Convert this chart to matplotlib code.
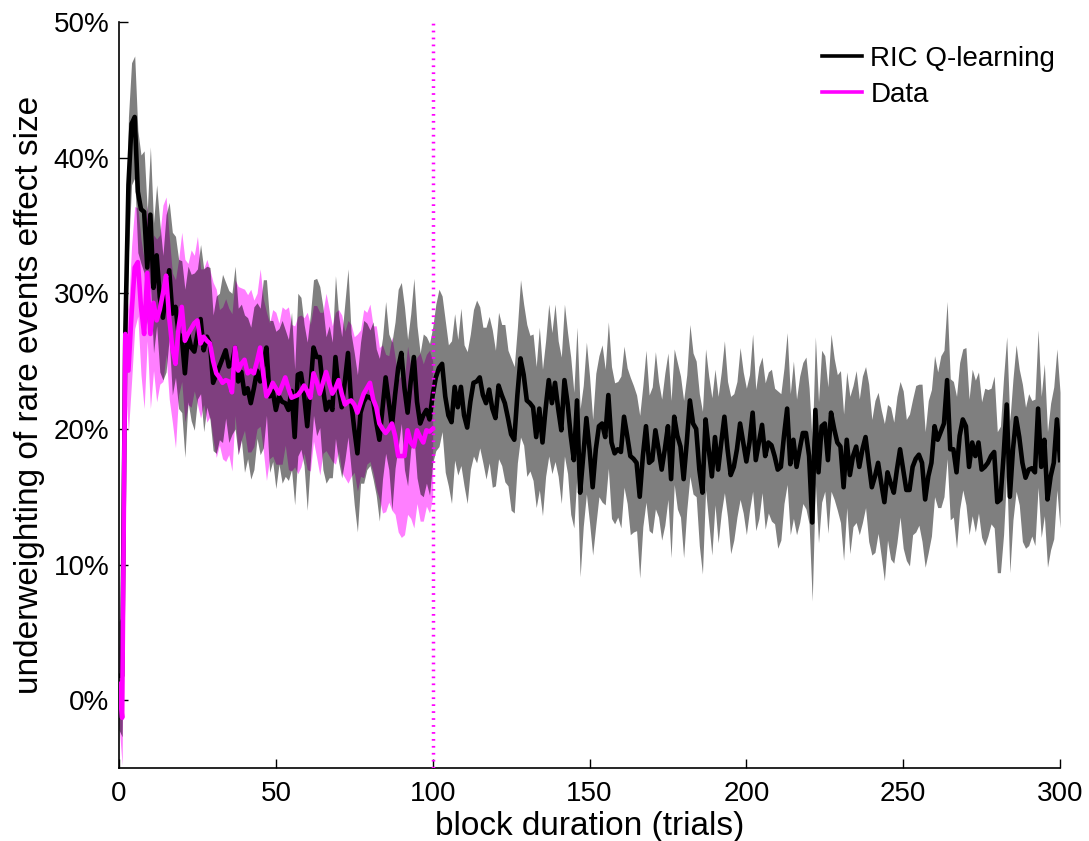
import numpy as np
import matplotlib
matplotlib.use("Agg")
import matplotlib.pyplot as plt

plt.rcParams['font.family'] = ['Liberation Sans', 'DejaVu Sans']

# RIC Q-learning model, mean effect size per trial (%)
model_mean = [
    1.8, 1.8, 27.0, 38.0, 42.5, 43.0, 37.5, 36.2, 36.0, 31.9,
    35.8, 30.4, 32.8, 29.7, 28.2, 30.0, 31.7, 28.5, 29.0, 27.0,
    26.8, 24.1, 27.0, 26.0, 25.7, 27.0, 28.1, 25.8, 26.8, 26.3,
    23.4, 24.0, 24.6, 25.2, 25.8, 24.6, 24.8, 26.0, 23.5, 24.2,
    22.6, 23.0, 21.9, 23.0, 24.3, 23.5, 24.8, 26.0, 22.4, 22.8,
    21.4, 22.4, 22.0, 21.9, 21.4, 22.8, 19.4, 24.0, 24.1, 22.5,
    20.2, 23.0, 26.0, 25.3, 25.3, 23.0, 21.4, 22.0, 21.4, 25.3,
    23.0, 21.6, 23.5, 25.6, 22.0, 20.0, 18.2, 21.2, 22.0, 22.4,
    22.3, 22.1, 20.5, 19.2, 21.5, 23.8, 22.0, 20.2, 22.5, 24.5,
    25.6, 23.0, 21.2, 23.5, 25.3, 22.0, 20.4, 21.0, 21.4, 20.7,
    22.5, 23.8, 24.5, 24.8, 22.4, 21.0, 20.5, 23.1, 21.6, 23.1,
    21.0, 20.1, 22.0, 23.4, 23.5, 23.8, 22.5, 21.9, 22.9, 21.5,
    20.8, 23.2, 22.5, 21.9, 20.8, 19.6, 19.2, 22.5, 25.2, 24.0,
    22.1, 21.9, 21.6, 19.4, 21.5, 19.0, 21.5, 23.6, 21.9, 23.4,
    21.5, 19.9, 23.6, 21.9, 19.5, 17.7, 22.1, 15.3, 18.0, 20.8,
    18.5, 15.7, 18.5, 20.2, 20.4, 19.4, 22.5, 19.0, 18.2, 18.5,
    18.3, 20.9, 19.5, 18.0, 17.8, 17.5, 15.0, 18.0, 20.2, 17.5,
    17.7, 19.9, 18.5, 17.0, 18.5, 20.2, 16.3, 20.9, 19.5, 18.7,
    16.3, 19.0, 22.1, 20.4, 20.0, 17.0, 15.3, 20.7, 18.5, 16.5,
    19.4, 17.0, 19.0, 20.9, 18.5, 16.6, 17.2, 18.5, 20.4, 19.0,
    17.6, 19.0, 21.2, 17.7, 19.0, 20.3, 18.0, 19.0, 18.8, 18.0,
    17.0, 17.2, 19.5, 21.5, 17.4, 19.2, 17.2, 18.5, 19.7, 19.7,
    18.0, 13.1, 21.4, 16.8, 20.2, 20.4, 17.7, 21.2, 20.0, 19.0,
    18.7, 15.7, 19.2, 16.6, 18.0, 18.7, 17.2, 18.5, 19.4, 17.5,
    15.7, 16.5, 17.5, 16.0, 14.6, 16.8, 16.0, 15.3, 17.0, 18.5,
    17.0, 15.5, 15.5, 17.2, 17.8, 18.1, 17.5, 14.8, 16.5, 17.5,
    20.2, 19.2, 19.8, 20.4, 23.6, 18.5, 18.5, 16.8, 19.5, 20.7,
    20.2, 17.2, 19.0, 18.0, 19.0, 17.0, 17.2, 17.5, 18.0, 18.3,
    14.6, 14.8, 18.0, 21.8, 15.0, 18.5, 20.8, 19.4, 17.5, 16.4,
    17.0, 17.1, 16.8, 21.5, 17.2, 19.2, 14.8, 16.5, 17.5, 20.7,
    17.7,
]

# half width of the grey band (%)
model_err = [
    4.0, 4.5, 5.0, 5.0, 4.5, 4.5, 4.5, 4.0, 4.5, 4.2,
    5.0, 4.8, 5.2, 5.5, 4.6, 5.8, 5.0, 6.0, 5.2, 5.5,
    5.6, 6.2, 5.0, 5.4, 5.8, 4.8, 5.5, 6.0, 5.2, 5.6,
    5.0, 5.8, 5.4, 6.2, 5.0, 5.6, 5.2, 6.0, 5.4, 5.0,
    5.8, 5.2, 5.6, 6.0, 5.0, 5.4, 6.2, 5.0, 5.6, 5.2,
    5.8, 5.0, 6.0, 5.4, 5.2, 5.8, 5.0, 6.0, 5.6, 5.2,
    6.2, 5.4, 5.0, 5.8, 5.2, 6.0, 5.4, 5.6, 5.0, 6.0,
    5.4, 5.2, 5.8, 6.2, 5.0, 5.6, 5.8, 5.2, 6.0, 5.4,
    5.0, 5.8, 5.4, 6.0, 5.2, 5.6, 5.0, 6.2, 5.4, 5.8,
    5.2, 6.0, 5.4, 5.0, 5.8, 5.6, 5.2, 6.0, 5.4, 5.6,
    5.0, 5.4, 5.8, 5.0, 5.6, 5.2, 6.0, 5.4, 5.0, 5.8,
    5.2, 5.6, 5.0, 5.4, 6.0, 5.2, 5.0, 5.6, 5.4, 5.8,
    5.0, 5.4, 5.2, 5.8, 5.0, 5.6, 5.4, 5.0, 5.8, 5.2,
    5.6, 5.0, 5.4, 5.2, 6.0, 5.4, 5.0, 5.6, 5.2, 5.8,
    5.0, 5.4, 5.6, 5.2, 5.8, 5.0, 5.4, 6.2, 5.2, 5.6,
    5.4, 5.0, 5.6, 5.2, 5.8, 5.0, 5.4, 5.6, 5.2, 5.0,
    5.6, 5.2, 5.0, 5.8, 5.4, 5.0, 6.0, 5.2, 5.6, 5.0,
    5.4, 5.8, 5.0, 5.2, 5.6, 5.4, 5.8, 5.0, 5.4, 5.2,
    5.8, 5.0, 5.6, 5.2, 5.0, 5.6, 6.0, 5.2, 5.4, 5.8,
    5.0, 5.4, 5.2, 5.6, 5.0, 5.8, 5.4, 5.0, 5.6, 5.2,
    5.4, 5.0, 5.8, 5.2, 5.6, 5.0, 5.4, 5.2, 5.6, 5.0,
    5.8, 5.4, 5.0, 5.6, 5.2, 5.8, 5.0, 5.4, 5.2, 5.6,
    5.0, 5.8, 5.4, 5.2, 5.6, 5.0, 5.4, 5.8, 5.2, 5.0,
    5.6, 5.4, 5.0, 5.8, 5.2, 5.6, 5.0, 5.4, 5.2, 5.8,
    5.0, 5.6, 5.2, 5.4, 5.8, 5.0, 5.6, 5.2, 5.4, 5.0,
    5.8, 5.2, 5.6, 5.0, 5.4, 5.2, 5.8, 5.0, 5.6, 5.4,
    5.2, 5.0, 5.6, 5.4, 5.8, 5.2, 5.0, 5.6, 5.4, 5.2,
    5.8, 5.0, 5.4, 5.6, 5.2, 5.0, 5.8, 5.4, 5.0, 5.6,
    5.2, 5.4, 5.8, 5.0, 5.6, 5.2, 5.4, 5.0, 5.8, 5.2,
    5.6, 5.0, 5.4, 5.8, 5.2, 5.6, 5.0, 5.4, 5.6, 5.2,
    5.0,
]

# experimental data, trials 0-100 (%)
data_mean = [
    1.2, -1.3, 27.0, 24.3, 28.5, 31.9, 32.3, 29.0, 27.0, 31.5,
    27.0, 29.3, 28.0, 28.8, 30.0, 31.3, 28.2, 26.0, 24.8, 27.5,
    29.0, 26.5, 27.0, 27.4, 27.8, 28.0, 26.3, 26.8, 26.5, 26.3,
    25.0, 24.1, 23.8, 23.4, 23.6, 23.5, 22.7, 26.0, 24.3, 24.8,
    25.1, 24.1, 24.3, 24.1, 25.0, 26.0, 24.0, 22.4, 22.8, 23.4,
    23.0, 22.6, 23.2, 23.8, 23.0, 22.3, 22.4, 22.5, 22.8, 23.2,
    22.8, 22.3, 24.1, 23.5, 22.6, 23.4, 24.2, 23.4, 22.6, 23.0,
    23.6, 22.6, 21.8, 22.0, 22.1, 21.8, 21.2, 21.9, 22.6, 23.0,
    23.4, 22.2, 21.6, 20.4, 20.0, 19.7, 20.0, 20.4, 19.5, 18.0,
    18.0, 18.0, 19.9, 19.0, 18.7, 19.9, 19.4, 19.0, 19.9, 19.8,
    20.0,
]

data_err = [
    3.0, 3.5, 4.0, 4.5, 5.0, 4.5, 4.0, 5.0, 5.5, 5.0,
    5.5, 5.0, 6.0, 5.5, 6.5, 5.8, 6.0, 5.5, 6.2, 5.0,
    5.5, 6.0, 5.2, 5.8, 5.0, 6.2, 5.5, 5.0, 6.0, 5.4,
    5.8, 6.2, 5.0, 5.6, 6.0, 5.4, 5.8, 5.0, 6.2, 5.6,
    5.2, 5.8, 6.0, 5.4, 5.0, 5.8, 5.6, 6.2, 5.0, 5.4,
    5.6, 5.2, 5.8, 5.0, 6.0, 5.4, 5.2, 5.8, 5.6, 5.0,
    5.8, 5.4, 5.0, 5.6, 6.0, 5.2, 5.8, 5.4, 5.0, 5.6,
    5.2, 5.8, 5.4, 6.0, 5.6, 5.0, 5.8, 5.4, 6.2, 5.6,
    5.8, 5.4, 6.0, 5.6, 6.2, 5.8, 5.4, 6.4, 5.8, 5.6,
    6.0, 5.8, 6.2, 5.6, 6.0, 5.4, 6.2, 5.8, 5.6, 6.0,
    5.0,
]

y_ticks = [0, 10, 20, 30, 40, 50]
y_ticklabels = ['0%', '10%', '20%', '30%', '40%', '50%']
x_ticks = [0, 50, 100, 150, 200, 250, 300]
block_end = 100

m = np.array(model_mean)
me = np.array(model_err)
d = np.array(data_mean)
de = np.array(data_err)
xm = np.arange(len(m))
xd = np.arange(len(d))

fig = plt.figure(figsize=(10.89, 8.41), dpi=100)
ax = fig.add_axes([0.1093, 0.0868, 0.8641, 0.887])

# bands first: magenta, then grey over it (gives the dark purple overlap)
ax.fill_between(xd, d - de, d + de, color='#ff00ff', alpha=0.5, lw=0, zorder=1)
ax.fill_between(xm, m - me, m + me, color='black', alpha=0.5, lw=0, zorder=2)
ax.plot(xm, m, color='black', lw=3.3, label='RIC Q-learning', zorder=3)
ax.plot(xd, d, color='#ff00ff', lw=3.3, label='Data', zorder=4)
ax.axvline(block_end, color='#ff00ff', lw=2.5, linestyle=(0, (0.5, 1.5)),
           dash_capstyle='butt', zorder=5)

ax.set_xlim(0, 300)
ax.set_ylim(-5, 50)
ax.set_xticks(x_ticks)
ax.set_yticks(y_ticks)
ax.set_yticklabels(y_ticklabels)
ax.tick_params(direction='in', length=6.5, width=1, labelsize=20)
ax.tick_params(axis='x', pad=9)
ax.tick_params(axis='y', pad=7)
for s in ['top', 'right']:
    ax.spines[s].set_visible(False)
for s in ['left', 'bottom']:
    ax.spines[s].set_linewidth(1.2)

ax.set_xlabel('block duration (trials)', fontsize=24, labelpad=3)
ax.set_ylabel('underweighting of rare events effect size', fontsize=24, labelpad=6)

leg = ax.legend(loc='upper right', bbox_to_anchor=(0.995, 0.968), frameon=False,
                fontsize=20, handlelength=1.45, handletextpad=0.3,
                labelspacing=0.37, borderpad=0, borderaxespad=0)
for line in leg.get_lines():
    line.set_linewidth(2.6)

fig.savefig('out.png', dpi=100)
